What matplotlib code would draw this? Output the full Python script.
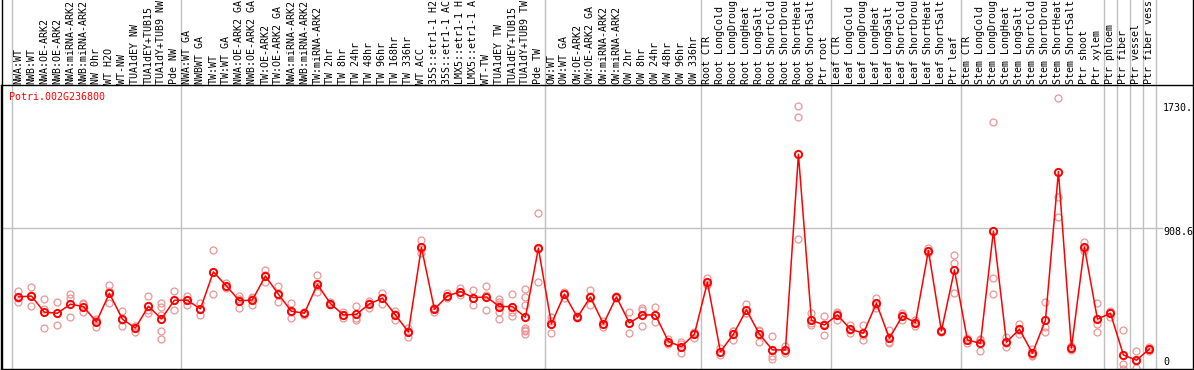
import matplotlib
matplotlib.use('Agg')
import matplotlib.pyplot as plt
from matplotlib.transforms import blended_transform_factory
from matplotlib.lines import Line2D

W, H = 1194, 370

gene = "Potri.002G236800"

labels = [
    "NWA:WT", "NWB:WT", "NWA:OE-ARK2", "NWB:OE-ARK2", "NWA:miRNA-ARK2", "NWB:miRNA-ARK2",
    "NW 0hr", "WT H2O", "WT-NW", "TUA1dEY NW", "TUA1dEY+TUB15", "TUA1dY+TUB9 NW", "Pde NW",
    "NWA:WT GA", "NWBWT GA", "TW:WT", "TW:WT GA", "NWA:OE-ARK2 GA", "NWB:OE-ARK2 GA",
    "TW:OE-ARK2", "TW:OE-ARK2 GA", "NWA:miRNA-ARK2", "NWB:miRNA-ARK2", "TW:miRNA-ARK2",
    "TW 2hr", "TW 8hr", "TW 24hr", "TW 48hr", "TW 96hr", "TW 168hr", "TW 336hr", "WT ACC",
    "35S::etr1-1 H2", "35S::etr1-1 AC", "LMX5::etr1-1 H", "LMX5::etr1-1 A", "WT-TW",
    "TUA1dEY TW", "TUA1dEY+TUB15", "TUA1dY+TUB9 TW", "Pde TW",
    "OW:WT", "OW:WT GA", "OW:OE-ARK2", "OW:OE-ARK2 GA", "OW:miRNA-ARK2", "OW:miRNA-ARK2",
    "OW 2hr", "OW 8hr", "OW 24hr", "OW 48hr", "OW 96hr", "OW 336hr",
    "Root CTR", "Root LongCold", "Root LongDroug", "Root LongHeat", "Root LongSalt",
    "Root ShortCold", "Root ShortDrou", "Root ShortHeat", "Root ShortSalt", "Ptr root",
    "Leaf CTR", "Leaf LongCold", "Leaf LongDroug", "Leaf LongHeat", "Leaf LongSalt",
    "Leaf ShortCold", "Leaf ShortDrou", "Leaf ShortHeat", "Leaf ShortSalt", "Ptr leaf",
    "Stem CTR", "Stem LongCold", "Stem LongDroug", "Stem LongHeat", "Stem LongSalt",
    "Stem ShortCold", "Stem ShortDrou", "Stem ShortHeat", "Stem ShortSalt", "Ptr shoot",
    "Ptr xylem", "Ptr phloem", "Ptr fiber", "Ptr vessel", "Ptr fiber vess",
]

group_sizes = [13, 28, 12, 10, 10, 11, 1, 1, 1, 1]

means = [
    473, 479, 376, 370, 427, 412, 315, 496, 332, 276, 414, 334, 452,
    452, 397, 632, 543, 448, 454, 606, 490, 382, 370, 553, 431, 359, 363, 429, 465, 359,
    251, 788, 395, 479, 507, 469, 473, 412, 412, 344, 782,
    302, 490, 344, 473, 302, 473, 308, 359, 359, 190, 158, 237,
    566, 126, 237, 391, 237, 137, 137, 1378, 325, 295,
    359, 268, 243, 433, 211, 353, 310, 767, 257, 644,
    200, 179, 891, 186, 268, 116, 325, 1268, 148, 788, 332,
    370, 105, 72, 143,
]

replicates = [
    [511, 469, 439], [536, 487, 414], [458, 397, 276], [443, 372, 295], [490, 465, 344],
    [433, 427, 376], [333, 327, 285], [547, 508, 433], [384, 325, 287], [291, 288, 249],
    [479, 393, 370], [433, 412, 360, 257, 205], [511, 456, 389],
    [481, 453, 422], [433, 399, 359], [771, 631, 494], [560, 541, 528], [481, 458, 405],
    [475, 465, 422], [642, 610, 566], [543, 488, 439], [433, 375, 338], [380, 370, 360],
    [611, 545, 503], [440, 431, 422], [380, 359, 338], [416, 338, 327], [448, 434, 405],
    [500, 468, 427], [384, 366, 327], [278, 254, 221], [834, 780, 750], [405, 400, 380],
    [496, 476, 465], [532, 503, 486], [517, 468, 422], [543, 487, 389],
    [458, 439, 430, 380, 332], [490, 412, 380, 353], [524, 471, 422, 277, 265, 254, 240],
    [1006, 774, 566],
    [344, 319, 243], [507, 494, 469], [350, 344, 338], [517, 480, 422], [321, 300, 285],
    [481, 473, 465], [376, 305, 243], [405, 391, 287], [408, 356, 313], [205, 190, 175],
    [186, 172, 116], [253, 243, 215],
    [592, 557, 549], [148, 125, 105], [257, 256, 198], [429, 372, 372], [264, 257, 190],
    [226, 101, 80], [164, 131, 116], [1682, 1612, 841], [370, 310, 295], [353, 300, 232],
    [380, 370, 327], [295, 266, 243], [295, 234, 200], [469, 425, 405], [264, 183, 186],
    [374, 358, 327], [327, 312, 291], [782, 765, 754], [262, 257, 252], [739, 687, 496],
    [210, 200, 179], [206, 198, 133], [1581, 592, 490], [221, 183, 154], [304, 263, 237],
    [141, 106, 101], [439, 285, 249], [1733, 1105, 980], [160, 148, 136], [820, 777, 767],
    [433, 304, 249],
    [382, 380, 348], [264, 46, 16], [129, 66, 21], [158, 138, 133],
]

y_max = 1817.2
grid_value = 908.6
axis_labels = ["1730.", "908.6", "0"]
axis_label_values = [1730.7, 908.6, 0]

RED = "#ff0000"
PINK = "#eb9696"
GREY = "#c0c0c0"
MONO = "DejaVu Sans Mono"
FS = 7.2

fig = plt.figure(figsize=(W / 100, H / 100), dpi=100)
fig.patch.set_facecolor("white")
ax = fig.add_axes([1 / W, 1 / H, 1192.5 / W, 284 / H])
ax.set_xlim(-1.338, 90.39)
ax.set_ylim(16, y_max)
ax.set_xticks([])
ax.set_yticks([])
for s in ax.spines.values():
    s.set_linewidth(1.0)
    s.set_color("black")

# horizontal mid grid line
ax.axhline(grid_value, xmin=0, xmax=(1162 - 1) / 1192.5, color=GREY, lw=1.0, zorder=1)

# group separator lines (extend up through the label area)
top_ext = 369 / 284
pos = -0.5
bounds = [pos]
for g in group_sizes:
    pos += g
    bounds.append(pos)
for b in bounds:
    ax.axvline(b, ymin=0, ymax=top_ext, color=GREY, lw=1.0, clip_on=False, zorder=1)

# left/right frame extensions to top
fig.add_artist(Line2D([1.5 / W, 1.5 / W], [1 / H, 1.0], color="black", lw=1.0))
fig.add_artist(Line2D([1193.3 / W, 1193.3 / W], [1 / H, 1.0], color="black", lw=1.0))

xs = list(range(len(means)))

# replicate points
for i, reps in enumerate(replicates):
    ax.plot([i] * len(reps), reps, linestyle="none", marker="o", ms=5.0,
            mfc="none", mec=PINK, mew=0.9, zorder=2, clip_on=False)

# mean line and markers
ax.plot(xs, means, color=RED, lw=1.1, zorder=3)
ax.plot(xs, means, linestyle="none", marker="o", ms=5.2, mfc="none",
        mec=RED, mew=1.4, zorder=4)

# category labels
trans = blended_transform_factory(ax.transData, fig.transFigure)
for i, lab in enumerate(labels):
    ax.text(i, (H - 83.5) / H, lab, transform=trans, rotation=90, ha="center",
            va="bottom", family=MONO, fontsize=FS, color="black", clip_on=False)

# gene name
fig.text(9.5 / W, (H - 97.3) / H, gene, color=RED, family=MONO, fontsize=FS,
         ha="left", va="center")

# right-hand value labels
offsets_px = [-9.1, -3.7, 9.8]
tr2 = blended_transform_factory(ax.transAxes, ax.transData)
for lab, val, off in zip(axis_labels, axis_label_values, offsets_px):
    ax.annotate(lab, xy=((1163 - 1) / 1192.5, val), xycoords=tr2,
                xytext=(0, off * 0.72), textcoords="offset points",
                ha="left", va="center", family=MONO, fontsize=FS, color="black",
                annotation_clip=False)

fig.savefig("out.png", dpi=100, facecolor="white")
